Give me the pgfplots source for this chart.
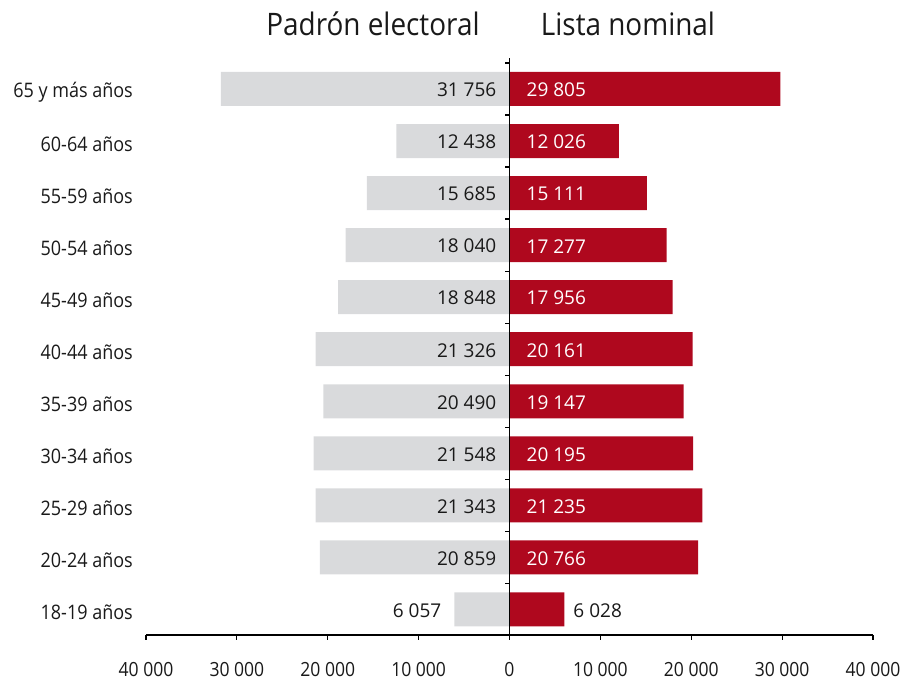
\documentclass[border=0pt]{standalone}
\usepackage{pgfplots}
\pgfplotsset{compat=1.18}
\usepackage{pgfplotstable}
\usepackage{fontspec}
\setmainfont{Open Sans}
\newfontfamily\condfont[FakeStretch=0.9]{Open Sans}
\definecolor{barred}{RGB}{175,8,30}
\definecolor{bargray}{RGB}{217,218,220}
\definecolor{txt}{RGB}{25,25,25}

\pgfplotstableread{
y padron lista
0 6057 6028
1 20859 20766
2 21343 21235
3 21548 20195
4 20490 19147
5 21326 20161
6 18848 17956
7 18040 17277
8 15685 15111
9 12438 12026
10 31756 29805
}\data

\begin{document}
\begin{tikzpicture}
\path[use as bounding box] (0,0) rectangle (907bp,684bp);
\node[anchor=base, font=\condfont\fontsize{31bp}{36bp}\selectfont, text=txt] at (373bp,648bp) {Padrón electoral};
\node[anchor=base, font=\condfont\fontsize{31bp}{36bp}\selectfont, text=txt] at (628bp,648bp) {Lista nominal};
\begin{axis}[
  at={(146bp,49bp)}, anchor=south west,
  scale only axis, width=727bp, height=577bp,
  xmin=-40000, xmax=40000, ymin=-0.49, ymax=10.595,
  axis x line*=bottom, axis y line*=left,
  x axis line style={-, line width=1.2bp, black},
  y axis line style={draw=none},
  scaled x ticks=false, scaled y ticks=false,
  xtick={-40000,-30000,...,40000},
  xticklabels={40 000,30 000,20 000,10 000,0,10 000,20 000,30 000,40 000},
  xtick align=outside, major tick length=5bp,
  xtick style={line width=1.2bp, black},
  xticklabel style={anchor=north, inner sep=0pt, yshift=-22bp, font=\condfont\fontsize{19.5bp}{23bp}\selectfont, text=txt},
  ytick={0,...,10},
  yticklabels={18-19 años,20-24 años,25-29 años,30-34 años,35-39 años,40-44 años,45-49 años,50-54 años,55-59 años,60-64 años,65 y más años},
  ytick style={draw=none},
  yticklabel style={anchor=east, inner sep=0pt, xshift=-13bp, yshift=-3bp, font=\condfont\fontsize{20bp}{24bp}\selectfont, text=txt},
  clip=false,
  /pgf/number format/assume math mode=true,
  /pgf/number format/1000 sep={\ },
]
\addplot[xbar, bar width=34bp, bar shift=0pt, fill=bargray, draw=none] table[x expr=-\thisrow{padron}, y=y] {\data};
\addplot[xbar, bar width=34bp, bar shift=0pt, fill=barred, draw=none] table[x=lista, y=y] {\data};
% labels padron
\addplot[draw=none, mark=none, point meta=\thisrow{padron},
  nodes near coords={\pgfmathprintnumber{\pgfplotspointmeta}},
  nodes near coords style={anchor=east, inner sep=0pt, xshift=-13bp, yshift=-1bp, text=txt, font=\fontsize{19bp}{23bp}\selectfont}]
  table[x expr={ifthenelse(\thisrow{y}==0,-\thisrow{padron},0)}, y=y] {\data};
% labels lista (inside)
\addplot[draw=none, mark=none, point meta=\thisrow{lista}, restrict y to domain=0.5:10.5,
  nodes near coords={\pgfmathprintnumber{\pgfplotspointmeta}},
  nodes near coords style={anchor=west, inner sep=0pt, xshift=17bp, yshift=-1bp, text=white, font=\fontsize{19bp}{23bp}\selectfont}]
  table[x expr=0, y=y] {\data};
% label lista (outside)
\addplot[draw=none, mark=none, point meta=\thisrow{lista}, restrict y to domain=-0.5:0.5,
  nodes near coords={\pgfmathprintnumber{\pgfplotspointmeta}},
  nodes near coords style={anchor=west, inner sep=0pt, xshift=9bp, yshift=-1bp, text=txt, font=\fontsize{19bp}{23bp}\selectfont}]
  table[x=lista, y=y] {\data};
\draw[line width=1.2bp, black] (axis cs:0,-0.49) -- (axis cs:0,10.595);
\pgfplotsinvokeforeach{0.5,1.5,2.5,3.5,4.5,5.5,6.5,7.5,8.5,9.5,10.5}{
  \draw[line width=1.2bp, black] (axis cs:0,#1) -- ([xshift=-5bp]axis cs:0,#1);
}
\end{axis}
\end{tikzpicture}
\end{document}
